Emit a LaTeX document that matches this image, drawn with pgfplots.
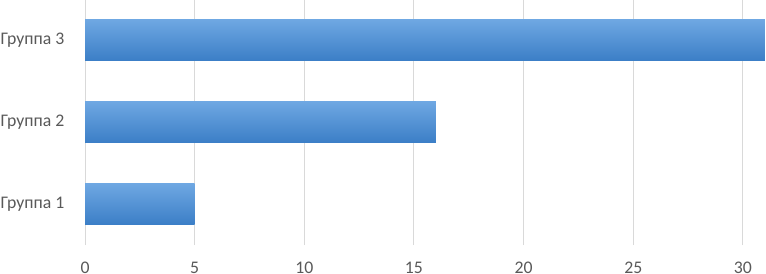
\documentclass[border=0pt]{standalone}
\usepackage{fontspec}
\setmainfont{Carlito}
\usepackage{pgfplots}
\pgfplotsset{compat=1.18}
\definecolor{txt}{RGB}{89,89,89}
\definecolor{gridc}{RGB}{217,217,217}
\definecolor{bartop}{RGB}{110,167,226}
\definecolor{barbot}{RGB}{60,127,199}
\begin{document}
\begin{tikzpicture}
\useasboundingbox (0,0) rectangle (574.5pt,204.75pt);
\clip (0,0) rectangle (574.5pt,204.75pt);
\begin{axis}[
  overlay,
  at={(63.75pt,21pt)}, anchor=south west,
  scale only axis,
  width=575.7pt, height=184.5pt,
  xmin=0, xmax=35,
  ymin=0.5, ymax=3.5,
  xtick={0,5,10,15,20,25,30},
  ytick={1,2,3},
  yticklabels={Группа 1,Группа 2,Группа 3},
  xmajorgrids,
  grid style={gridc, line width=0.75pt},
  axis line style={draw=none},
  major tick length=0pt,
  tick label style={font=\fontsize{13.3}{16}\selectfont, text=txt},
  xticklabel style={yshift=-9.5pt},
  yticklabel style={xshift=-12pt},
  /pgf/number format/assume math mode=true,
  xbar, bar width=0.49, bar shift=0pt,
  every axis plot/.append style={draw=none, shading=axis, top color=bartop, bottom color=barbot, shading angle=0},
]
\addplot coordinates {(5,1)};
\addplot coordinates {(16,2)};
\addplot coordinates {(31,3)};
\end{axis}
\end{tikzpicture}
\end{document}
